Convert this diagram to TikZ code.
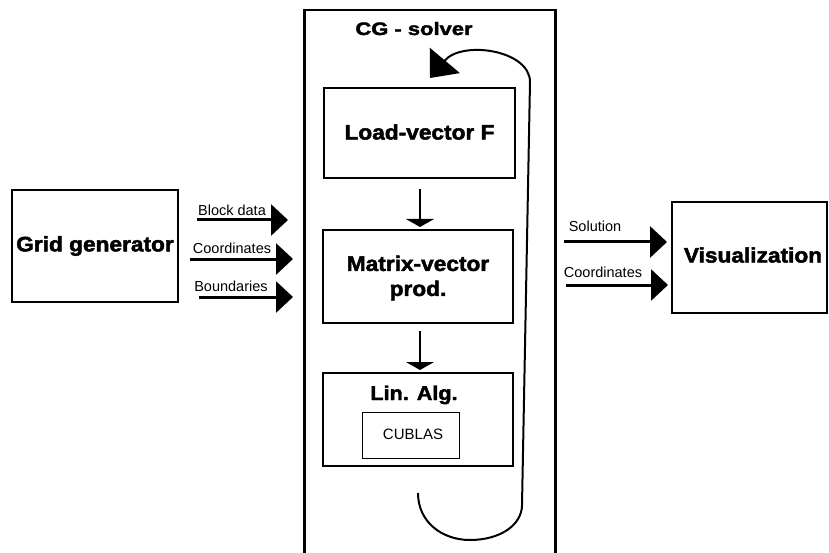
\documentclass[tikz,border=0pt]{standalone}
\usepackage{fontspec}
\setmainfont{Liberation Sans}
\newfontfamily\heavy{Liberation Sans}[FakeStretch=1.08, BoldFeatures={FakeBold=2.2}]
\newfontfamily\heavywide{Liberation Sans}[FakeStretch=1.22, BoldFeatures={FakeBold=2.2}]
\usetikzlibrary{arrows.meta}
\newcommand{\hv}[1]{\fontsize{#1}{#1}\selectfont\heavy\bfseries}
\begin{document}
\begin{tikzpicture}[x=1pt, y=-1pt,
  box/.style={draw, line width=2pt, inner sep=0pt},
  thinbox/.style={draw, line width=1pt, inner sep=0pt},
  title/.style={inner sep=0pt, font=\hv{21}},
  lab/.style={inner sep=0pt, font=\fontsize{14.5}{14.5}\selectfont},
  feed/.style={line width=3pt, -{Triangle[length=17pt, width=31pt]}},
  stepdown/.style={line width=1.5pt, -{Triangle[length=8pt, width=28pt]}},
  loopback/.style={line width=2pt, -{Triangle[length=23pt, width=39pt]}}]
\useasboundingbox (0,0) rectangle (829,553);
\clip (0,0) rectangle (829,553);

% Grid generator
\node[box, minimum width=166pt, minimum height=112pt] (grid) at (95,246) {};
\node[title] (gridtxt) at (95,246) {Grid generator};

% CG solver frame (runs off the bottom edge)
\node[box, line width=2.5pt, minimum width=251pt, minimum height=570pt, anchor=north west] (solver) at (303,9) {};
\node[inner sep=0pt, anchor=base, font=\fontsize{18}{18}\selectfont\heavywide\bfseries] (solvertxt) at (414,35) {CG - solver};

% Inner blocks
\node[box, minimum width=191pt, minimum height=90pt] (load) at (419.5,133) {};
\node[title] (loadtxt) at (419.5,132) {Load-vector F};

\node[box, minimum width=190pt, minimum height=93pt] (mvp) at (418,276.5) {};
\node[title, align=center] (mvptxt) at (418,278) {Matrix-vector\\[4pt]prod.};

\node[box, minimum width=190pt, minimum height=93pt] (lin) at (418,419.5) {};
\node[inner sep=0pt, anchor=base, font=\hv{20}] (lintxt) at (414,400) {Lin. Alg.};
\node[thinbox, minimum width=97pt, minimum height=46pt] (cublas) at (410.5,435) {};
\node[lab, font=\fontsize{15}{15}\selectfont] (cublastxt) at (413,434) {CUBLAS};

% Visualization
\node[box, minimum width=155pt, minimum height=111pt] (vis) at (749.5,257.5) {};
\node[title] (vistxt) at (753,255) {Visualization};

% Input arrows
\coordinate (b0) at (197,220); \coordinate (b1) at (288,220);
\coordinate (c0) at (190,259); \coordinate (c1) at (293,259);
\coordinate (d0) at (199,297); \coordinate (d1) at (293,297);
\draw[feed] (b0) -- (b1);
\draw[feed] (c0) -- (c1);
\draw[feed] (d0) -- (d1);
\node[lab, anchor=base] (lblock) at (232,216) {Block data};
\node[lab, anchor=base] (lcoord) at (232,254) {Coordinates};
\node[lab, anchor=base] (lbound) at (231,291) {Boundaries};

% Output arrows
\coordinate (s0) at (564,242); \coordinate (s1) at (667,242);
\coordinate (e0) at (566,285); \coordinate (e1) at (668,285);
\draw[feed] (s0) -- (s1);
\draw[feed] (e0) -- (e1);
\node[lab, anchor=base] (lsol) at (595,232) {Solution};
\node[lab, anchor=base] (lcoord2) at (603,277) {Coordinates};

% Steps inside the solver
\coordinate (m0) at (420,189); \coordinate (m1) at (420,227);
\coordinate (n0) at (420,331); \coordinate (n1) at (420,370);
\draw[stepdown] (m0) -- (m1);
\draw[stepdown] (n0) -- (n1);

% Iteration loop
\coordinate (loopstart) at (418,493);
\coordinate (looptip) at (430,78);
\draw[loopback] (loopstart) .. controls (418,522) and (442,540) .. (470,540)
  .. controls (500,540) and (522,525) .. (522,505)
  -- (530,82) .. controls (530,50) and (462,40) .. (looptip);
\end{tikzpicture}
\end{document}
